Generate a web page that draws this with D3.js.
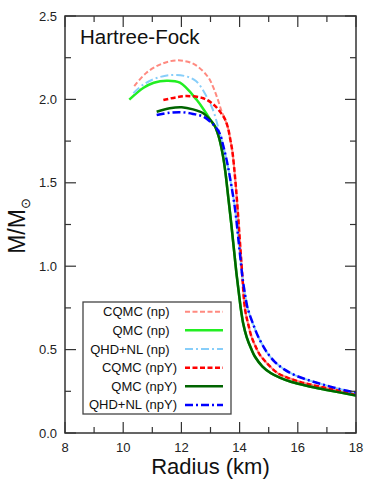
<!DOCTYPE html>
<html>
<head>
<meta charset="utf-8">
<script src="https://cdn.jsdelivr.net/npm/d3@7"></script>
<style>
  body { margin: 0; background: #fff; }
  svg { display: block; font-family: "Liberation Sans", Arial, sans-serif; }
</style>
</head>
<body>
<svg id="vis" width="376" height="479"></svg>
<script>
// mass-radius curves, [radius km, M/Msun]
// np and npY branches share the low-mass part (tail)
const cqmcTail = [[13.5,1.88],[13.6,1.83],[13.68,1.76],[13.75,1.69],[13.82,1.577],[13.88,1.46],[13.95,1.3],[13.99,1.2],[14.03,1.1],[14.07,1.0],[14.11,0.9],[14.15,0.8],[14.21,0.718],[14.3,0.65],[14.41,0.577],[14.6,0.5],[14.7,0.468],[14.93,0.42],[15.3,0.36],[15.6,0.335],[16.1,0.305],[16.7,0.28],[17.3,0.258],[18.0,0.228]];
const cqmcNpTop = [[10.38,2.08],[10.8,2.16],[11.35,2.215],[11.89,2.234],[12.45,2.21],[12.92,2.133],[13.1,2.07],[13.25,2.0],[13.38,1.93]];
const cqmcNpYTop = [[11.38,1.996],[11.8,2.012],[12.18,2.02],[12.75,2.007],[13.1,1.97],[13.33,1.926]];

const qmcTail = [[13.15,1.84],[13.23,1.805],[13.31,1.76],[13.43,1.66],[13.515,1.56],[13.58,1.46],[13.645,1.36],[13.71,1.26],[13.77,1.16],[13.83,1.06],[13.89,0.96],[13.92,0.917],[13.96,0.86],[14.03,0.76],[14.065,0.718],[14.12,0.66],[14.24,0.577],[14.41,0.5],[14.53,0.457],[14.78,0.4],[15.08,0.358],[15.4,0.33],[15.76,0.307],[16.3,0.283],[17.0,0.258],[18.0,0.225]];
const qmcNpTop = [[10.21,1.999],[10.7,2.07],[11.05,2.1],[11.49,2.112],[11.95,2.1],[12.53,1.996],[12.8,1.93],[13.04,1.866]];
const qmcNpYTop = [[11.15,1.926],[11.6,1.947],[12.01,1.953],[12.4,1.94],[12.75,1.917],[12.95,1.885]];

const qhdTail = [[13.33,1.79],[13.44,1.72],[13.55,1.64],[13.64,1.56],[13.74,1.46],[13.83,1.36],[13.9,1.26],[13.96,1.16],[14.02,1.06],[14.08,0.96],[14.11,0.917],[14.16,0.86],[14.26,0.76],[14.33,0.718],[14.45,0.66],[14.64,0.577],[14.88,0.5],[14.96,0.478],[15.2,0.428],[15.52,0.383],[15.92,0.345],[16.4,0.315],[16.88,0.29],[17.4,0.265],[18.0,0.242]];
const qhdNpTop = [[10.35,2.037],[10.7,2.09],[11.1,2.125],[11.61,2.146],[12.12,2.14],[12.5,2.11],[12.87,2.016],[13.1,1.93],[13.22,1.86]];
const qhdNpYTop = [[11.15,1.906],[11.6,1.92],[12.01,1.923],[12.4,1.913],[12.75,1.897],[13.0,1.865],[13.21,1.827]];

const labels = ['CQMC (np)', 'QMC (np)', 'QHD+NL (np)', 'CQMC (npY)', 'QMC (npY)', 'QHD+NL (npY)'];
const curves = [
  cqmcNpTop.concat(cqmcTail),
  qmcNpTop.concat(qmcTail),
  qhdNpTop.concat(qhdTail),
  cqmcNpYTop.concat(cqmcTail),
  qmcNpYTop.concat(qmcTail),
  qhdNpYTop.concat(qhdTail)
];
const xTicks = [8, 10, 12, 14, 16, 18];
const yTicks = [0, 0.5, 1.0, 1.5, 2.0, 2.5];

// styles
const colors = ['#ff8a80', '#22ee22', '#87cefa', '#ff0000', '#006400', '#0000ff'];
const dashes = ['5,2.5', null, '8,3,2,3', '5,2.5', null, '8,3,2,3'];
const widths = [2, 2.5, 2, 2.5, 2.5, 2.5];

const vis = d3.select('#vis');
const plotL = 65, plotR = 356, plotT = 16, plotB = 433;

const x = d3.scaleLinear().domain([8, 18]).range([plotL, plotR]);
const y = d3.scaleLinear().domain([0, 2.5]).range([plotB, plotT]);

// clip
vis.append('defs').append('clipPath').attr('id', 'plot')
  .append('rect').attr('x', plotL).attr('y', plotT).attr('width', plotR - plotL).attr('height', plotB - plotT);

// curves
const line = d3.line()
  .x(d => x(d[0]))
  .y(d => y(d[1]))
  .curve(d3.curveCatmullRom.alpha(0.5));

vis.append('g').attr('clip-path', 'url(#plot)')
  .selectAll('path')
  .data(curves)
  .enter()
    .append('path')
    .attr('d', line)
    .attr('fill', 'none')
    .attr('stroke', (d, i) => colors[i])
    .attr('stroke-width', (d, i) => widths[i])
    .attr('stroke-dasharray', (d, i) => dashes[i]);

// axes (ticks inward on all four sides)
const axisColor = '#333';
const major = 11, minor = 6;
const g = vis.append('g').attr('stroke', axisColor).attr('stroke-width', 1.2);

const xMinor = d3.range(9, 18, 2);
const yMinor = d3.range(0.25, 2.5, 0.5);

xTicks.forEach(t => {
  g.append('line').attr('x1', x(t)).attr('x2', x(t)).attr('y1', plotB).attr('y2', plotB - major);
  g.append('line').attr('x1', x(t)).attr('x2', x(t)).attr('y1', plotT).attr('y2', plotT + major);
});
xMinor.forEach(t => {
  g.append('line').attr('x1', x(t)).attr('x2', x(t)).attr('y1', plotB).attr('y2', plotB - minor);
  g.append('line').attr('x1', x(t)).attr('x2', x(t)).attr('y1', plotT).attr('y2', plotT + minor);
});
yTicks.forEach(t => {
  g.append('line').attr('x1', plotL).attr('x2', plotL + major).attr('y1', y(t)).attr('y2', y(t));
  g.append('line').attr('x1', plotR).attr('x2', plotR - major).attr('y1', y(t)).attr('y2', y(t));
});
yMinor.forEach(t => {
  g.append('line').attr('x1', plotL).attr('x2', plotL + minor).attr('y1', y(t)).attr('y2', y(t));
  g.append('line').attr('x1', plotR).attr('x2', plotR - minor).attr('y1', y(t)).attr('y2', y(t));
});

vis.append('rect')
  .attr('x', plotL).attr('y', plotT)
  .attr('width', plotR - plotL).attr('height', plotB - plotT)
  .attr('fill', 'none')
  .attr('stroke', axisColor)
  .attr('stroke-width', 1.5);

// tick labels
vis.append('g').selectAll('text').data(xTicks).enter()
  .append('text')
    .attr('x', d => x(d))
    .attr('y', 452)
    .attr('text-anchor', 'middle')
    .attr('font-size', 13)
    .attr('fill', '#222')
    .text(d => d);

vis.append('g').selectAll('text').data(yTicks).enter()
  .append('text')
    .attr('x', 57)
    .attr('y', d => y(d) + 4.5)
    .attr('text-anchor', 'end')
    .attr('font-size', 13)
    .attr('fill', '#222')
    .text(d3.format('.1f'));

// axis titles
vis.append('text')
  .attr('x', (plotL + plotR) / 2)
  .attr('y', 474)
  .attr('text-anchor', 'middle')
  .attr('font-size', 22)
  .attr('fill', '#111')
  .text('Radius (km)');

const yt = vis.append('text')
  .attr('transform', 'translate(25,' + 226 + ') rotate(-90)')
  .attr('text-anchor', 'middle')
  .attr('font-size', 23)
  .attr('fill', '#111');
yt.append('tspan').text('M/M');
yt.append('tspan').attr('font-size', 13).attr('dy', 5).text('\u2299');

vis.append('text')
  .attr('x', 80)
  .attr('y', 44)
  .attr('font-size', 20.5)
  .attr('fill', '#111')
  .text('Hartree-Fock');

// legend
const legend = vis.append('g');
legend.append('rect')
  .attr('x', 83).attr('y', 302)
  .attr('width', 148).attr('height', 112)
  .attr('fill', '#fff')
  .attr('stroke', '#444')
  .attr('stroke-width', 1.3);

const rowY = i => 311.7 + i * 18.65;
const entries = legend.selectAll('g.entry').data(labels).enter()
  .append('g').classed('entry', true);

entries.append('text')
  .attr('x', d => d.includes('npY') ? 177 : 169.5)
  .attr('y', (d, i) => rowY(i) + 4.5)
  .attr('text-anchor', 'end')
  .attr('font-size', 13)
  .attr('fill', '#111')
  .text(d => d);

entries.append('line')
  .attr('x1', 185).attr('x2', 223)
  .attr('y1', (d, i) => rowY(i)).attr('y2', (d, i) => rowY(i))
  .attr('stroke', (d, i) => colors[i])
  .attr('stroke-width', (d, i) => widths[i])
  .attr('stroke-dasharray', (d, i) => dashes[i]);
</script>
</body>
</html>
